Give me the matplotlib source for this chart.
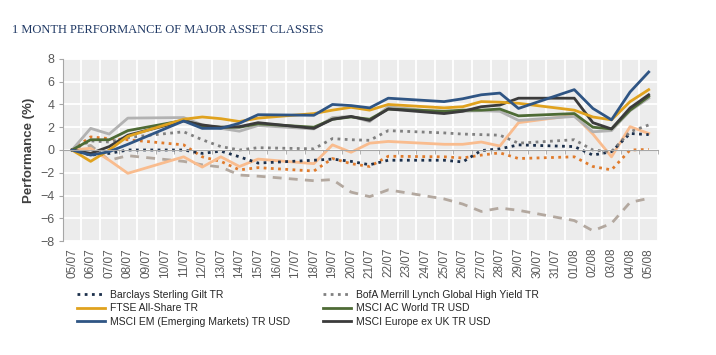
import numpy as np
import matplotlib.pyplot as plt

plt.rcParams['font.family'] = ['Liberation Sans', 'DejaVu Sans']

# category axis, one label per calendar day
axis_labels = ['05/07', '06/07', '07/07', '08/07', '09/07', '10/07', '11/07', '12/07',
               '13/07', '14/07', '15/07', '16/07', '17/07', '18/07', '19/07', '20/07',
               '21/07', '22/07', '23/07', '24/07', '25/07', '26/07', '27/07', '28/07',
               '29/07', '30/07', '31/07', '01/08', '02/08', '03/08', '04/08', '05/08']

# trading days only (weekends have no value)
trade_days = ['05/07', '06/07', '07/07', '08/07', '11/07', '12/07', '13/07', '14/07',
              '15/07', '18/07', '19/07', '20/07', '21/07', '22/07', '25/07', '26/07',
              '27/07', '28/07', '29/07', '01/08', '02/08', '03/08', '04/08', '05/08']

gilt = [0, -0.45, -0.3, 0.0, 0.0, -0.3, -0.1, -0.6, -1.15, -0.9, -0.8, -1.0,
        -1.3, -0.9, -0.9, -1.05, -0.05, 0.1, 0.45, 0.3, -0.45, -0.15, 1.45, 1.35]
high_yield = [0, 0.8, 0.7, 1.1, 1.6, 0.9, 0.3, 0.0, 0.2, 0.1, 1.0, 0.9,
              0.85, 1.7, 1.5, 1.4, 1.35, 1.3, 0.6, 0.9, 0.0, -0.15, 1.6, 2.2]
ftse = [0, -1.0, 0.0, 1.2, 2.7, 2.9, 2.75, 2.5, 2.8, 3.2, 3.5, 3.75,
        3.5, 4.0, 3.7, 3.8, 4.25, 4.2, 4.1, 3.5, 2.9, 2.65, 4.25, 5.3]
acwi = [0, 0.9, 0.9, 1.7, 2.6, 2.1, 2.0, 2.0, 2.3, 2.0, 2.7, 2.9,
        2.7, 3.6, 3.4, 3.5, 3.5, 3.6, 3.0, 3.2, 2.0, 1.85, 3.5, 4.7]
em = [0, -0.45, -0.15, 0.5, 2.55, 1.9, 1.9, 2.35, 3.1, 3.05, 4.0, 3.9,
      3.7, 4.55, 4.25, 4.5, 4.85, 5.0, 3.65, 5.3, 3.65, 2.65, 5.1, 6.85]
europe = [0, -0.3, 0.3, 1.3, 2.55, 2.2, 2.0, 2.05, 2.4, 1.9, 2.7, 2.95,
          2.6, 3.6, 3.2, 3.4, 3.8, 3.95, 4.55, 4.55, 2.4, 1.85, 3.7, 4.85]
# series whose legend entries are cut off in the source
light_grey = [0, 1.9, 1.4, 2.8, 2.85, 2.2, 1.9, 1.65, 2.15, 1.85, 2.85, 2.95,
              2.5, 3.8, 3.3, 3.4, 3.45, 3.4, 2.6, 2.95, 1.6, 1.7, 3.45, 4.55]
peach = [0, 0.15, -0.9, -2.05, -0.6, -1.5, -0.6, -1.45, -0.8, -1.2, 0.45, -0.2,
         0.6, 0.75, 0.5, 0.5, 0.7, 0.35, 2.4, 3.05, 1.4, -0.6, 2.05, 1.45]
orange_dot = [0, 1.15, 1.0, 0.9, 0.45, -0.6, -1.0, -1.75, -1.55, -1.85, -0.75, -1.2,
              -1.45, -0.55, -0.6, -0.7, -0.45, -0.25, -0.75, -0.6, -1.45, -1.75, 0.0, 0.05]
dashed = [0, 0.4, -0.9, -0.5, -1.0, -1.3, -1.5, -2.2, -2.3, -2.7, -2.6, -3.7,
          -4.1, -3.5, -4.3, -4.75, -5.4, -5.1, -5.3, -6.2, -7.1, -6.45, -4.6, -4.25]

x = [axis_labels.index(d) for d in trade_days]

fig = plt.figure(figsize=(7.16, 3.55), dpi=100)
ax = fig.add_axes([0.0876, 0.321, 0.8314, 0.513])
ax.set_facecolor('#ececec')
ax.set_xlim(-0.5, 31.5)
ax.set_ylim(-8, 8)
ax.set_yticks(range(-8, 9, 2))
ax.set_xticks(range(32))
ax.set_xticks(np.arange(-0.5, 32, 1), minor=True)
ax.grid(True, which='minor', axis='x', color='white', lw=1.3)
ax.grid(True, which='major', axis='y', color='white', lw=1.3)
ax.set_axisbelow(True)

for s in ['top', 'right']:
    ax.spines[s].set_visible(False)
ax.spines['left'].set_color('#a6a6a6')
ax.spines['bottom'].set_position(('data', 0))
ax.spines['bottom'].set_color('#a6a6a6')
ax.tick_params(axis='x', which='major', length=0, labelbottom=False)
ax.tick_params(axis='x', which='minor', length=3, color='#a6a6a6', direction='out')
ax.tick_params(axis='y', length=3, color='#a6a6a6', labelsize=9, labelcolor='#595959', pad=3)

sec = ax.secondary_xaxis(0.0)
sec.set_xticks(range(32), labels=axis_labels, rotation=90)
sec.tick_params(length=0, pad=5, labelsize=8.5, labelcolor='#595959')
sec.spines['bottom'].set_visible(False)

ax.set_ylabel('Performance (%)', fontsize=9.5, fontweight='bold', color='#404040')
ax.yaxis.set_label_coords(-0.047, 0.5)

lw = 2.0
ax.plot(x, dashed, color='#b3a89f', lw=lw, dashes=(3.2, 2.6))
ax.plot(x, orange_dot, color='#e07b2c', lw=lw, linestyle=(0, (1, 1.6)))
ax.plot(x, peach, color='#f9bc8e', lw=lw)
l_gilt, = ax.plot(x, gilt, color='#1b2f4b', lw=lw, linestyle=(0, (1, 1.6)),
                  label='Barclays Sterling Gilt TR')
l_hy, = ax.plot(x, high_yield, color='#808080', lw=lw, linestyle=(0, (1, 1.6)),
                label='BofA Merrill Lynch Global High Yield TR')
ax.plot(x, light_grey, color='#b2b2b2', lw=lw)
l_acwi, = ax.plot(x, acwi, color='#4e6b35', lw=lw, label='MSCI AC World TR USD')
l_eu, = ax.plot(x, europe, color='#3b3b3b', lw=lw, label='MSCI Europe ex UK TR USD')
l_ftse, = ax.plot(x, ftse, color='#e0a21e', lw=lw, label='FTSE All-Share TR')
l_em, = ax.plot(x, em, color='#2f5584', lw=lw,
                label='MSCI EM (Emerging Markets) TR USD')

leg_kw = dict(loc='upper left', frameon=False, borderpad=0, borderaxespad=0,
              fontsize=7.5, handlelength=2.7, handletextpad=0.5, labelspacing=0.32,
              labelcolor='#262626')
fig.legend(handles=[l_gilt, l_ftse, l_em], bbox_to_anchor=(77 / 716, 1 - 290 / 355), **leg_kw)
fig.legend(handles=[l_hy, l_acwi, l_eu], bbox_to_anchor=(323 / 716, 1 - 290 / 355), **leg_kw)

fig.text(12 / 716, 1 - 33 / 355, '1 MONTH PERFORMANCE OF MAJOR ASSET CLASSES',
         family='Liberation Serif', fontsize=9, color='#1f3864', va='baseline')

fig.savefig('out.png', dpi=100)
